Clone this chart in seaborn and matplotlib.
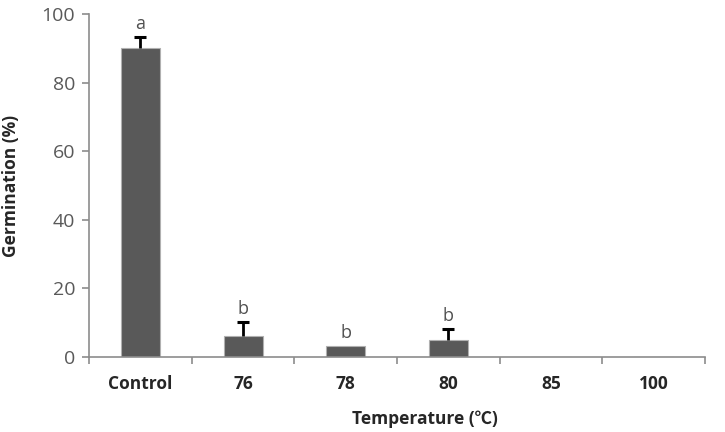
import numpy as np
import pandas as pd
import matplotlib
matplotlib.use("Agg")
import matplotlib.pyplot as plt
import seaborn as sns

# data
categories = ['Control', '76', '78', '80', '85', '100']
germination = [90.0, 6.1, 3.3, 5.0, 0.0, 0.0]
err_upper = [3.4, 4.2, 0.0, 3.2, 0.0, 0.0]
letters = ['a', 'b', 'b', 'b', '', '']

df = pd.DataFrame({'temp': categories, 'germ': germination})

sns.set_style('white')
plt.rcParams['font.family'] = ['Open Sans', 'Noto Sans CJK SC', 'DejaVu Sans']

fig = plt.figure(figsize=(7.25, 4.32), dpi=100)
ax = fig.add_axes([0.1228, 0.1736, 0.8496, 0.794])

sns.barplot(data=df, x='temp', y='germ', order=categories,
            color='#595959', width=0.38, saturation=1,
            edgecolor='#b0b0b0', linewidth=0.8, ax=ax)

# upper error bars only (T shape)
pos = np.arange(len(categories))
vals = np.array(germination)
errs = np.array(err_upper)
m = errs > 0
ax.vlines(pos[m], vals[m], vals[m] + errs[m], color='black', linewidth=2)
ax.plot(pos[m], vals[m] + errs[m], linestyle='none', marker='_',
        markersize=8, markeredgewidth=2.2, color='black')

for i, lab in enumerate(letters):
    if lab:
        ax.text(pos[i], vals[i] + errs[i] + 1.0, lab, ha='center', va='bottom',
                fontsize=13, color='#505050')

ax.set_ylim(0, 100)
ax.set_xlim(-0.5, len(categories) - 0.5)
ax.set_yticks([0, 20, 40, 60, 80, 100])

sns.despine(ax=ax)
for s in ['left', 'bottom']:
    ax.spines[s].set_color('#8c8c8c')
    ax.spines[s].set_linewidth(1.2)

ax.tick_params(axis='y', direction='out', length=5, width=1.2,
               color='#8c8c8c', labelsize=14, labelcolor='#595959', pad=5, left=True)
ax.set_xticks(pos)
ax.set_xticklabels(categories, fontsize=12.5, fontweight='bold', color='#262626')
ax.set_xticks(np.arange(-0.5, len(categories)), minor=True)
ax.tick_params(axis='x', which='major', length=0, pad=13)
ax.tick_params(axis='x', which='minor', direction='out', length=5, width=1.2,
               color='#8c8c8c', bottom=True)

ax.set_ylabel('Germination (%)', fontsize=12.5, fontweight='bold', color='#262626')
ax.yaxis.set_label_coords(-0.112, 0.5)
ax.set_xlabel('Temperature (℃)', fontsize=12.5, fontweight='bold', color='#262626')
ax.xaxis.set_label_coords(0.545, -0.155)

fig.savefig('out.png', dpi=100)
